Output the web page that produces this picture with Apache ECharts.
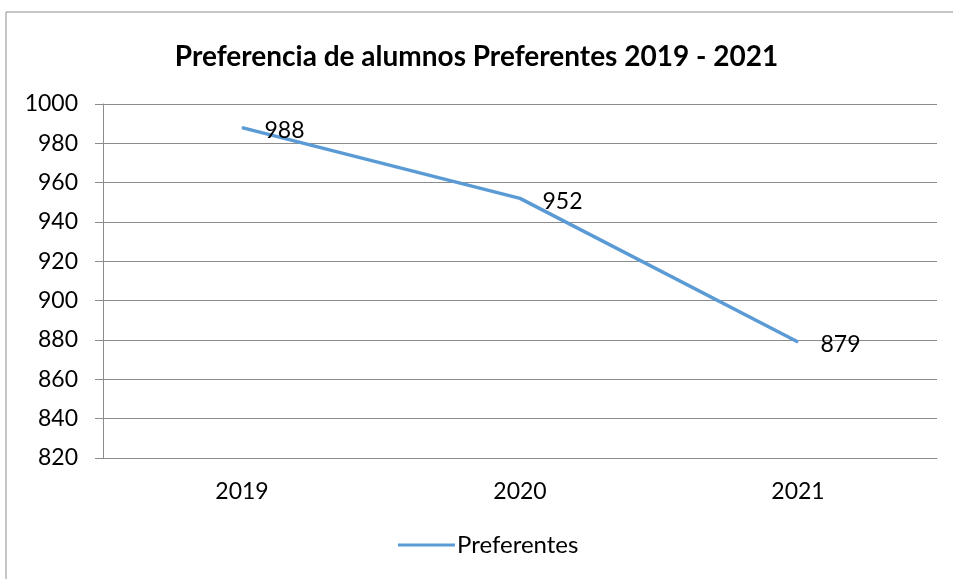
<!DOCTYPE html>
<html>
<head>
    <meta charset="UTF-8">
    <title>Preferentes</title>
    <script src="https://cdn.jsdelivr.net/npm/echarts@6/dist/echarts.min.js"></script>
    <style>
        *{margin:0;padding:0}
        html, body{ width:100%; height:100%; background:#fff; }
        #main{ width:953px; height:579px; }
    </style>
</head>
<body>
    <div id="main"></div>
    <script type="text/javascript">
        var years = ['2019', '2020', '2021'];
        var preferentes = [988, 952, 879];
        var titleText = 'Preferencia de alumnos Preferentes 2019 - 2021';
        var seriesName = 'Preferentes';

        var font = 'Lato';
        var myChart = echarts.init(document.getElementById('main'));
        var option = {
            backgroundColor: '#fff',
            textStyle: { fontFamily: font, color: '#000' },
            graphic: [{
                type: 'rect',
                shape: { x: 6, y: 12, width: 1000, height: 700 },
                style: { fill: 'none', stroke: '#8c8c8c', lineWidth: 1 },
                silent: true
            }],
            title: {
                text: titleText,
                left: 'center',
                top: 38,
                textStyle: { fontFamily: font, fontWeight: 'bold', fontSize: 28, color: '#000' }
            },
            legend: {
                left: 398,
                bottom: 22,
                padding: 0,
                itemWidth: 57,
                itemHeight: 3,
                itemGap: 0,
                data: [{ name: seriesName, icon: 'rect' }],
                textStyle: { fontFamily: font, fontSize: 24, color: '#000', padding: [0, 0, 0, -3] }
            },
            grid: { left: 103, right: 16, top: 104, bottom: 121 },
            xAxis: {
                type: 'category',
                data: years,
                boundaryGap: true,
                axisLine: { lineStyle: { color: '#8c8c8c', width: 1 } },
                axisTick: { length: 8, lineStyle: { color: '#8c8c8c' } },
                axisLabel: { fontFamily: font, fontSize: 23, color: '#000', margin: 22 }
            },
            yAxis: {
                type: 'value',
                min: 820,
                max: 1000,
                interval: 20,
                axisLine: { show: true, lineStyle: { color: '#8c8c8c', width: 1 } },
                axisTick: { show: true, length: 8, lineStyle: { color: '#8c8c8c' } },
                axisLabel: {
                    fontFamily: font, fontSize: 23, color: '#000', margin: 25,
                    formatter: function (v) { return String(v); }
                },
                splitLine: { lineStyle: { color: '#8c8c8c', width: 1 } }
            },
            series: [{
                name: seriesName,
                type: 'line',
                data: preferentes,
                symbol: 'circle',
                symbolSize: 1,
                color: '#5b9bd5',
                lineStyle: { width: 3.5, color: '#5b9bd5' },
                label: {
                    show: true,
                    position: 'right',
                    distance: 22,
                    offset: [0, 3],
                    fontFamily: font,
                    fontSize: 23,
                    color: '#000'
                },
                animation: false
            }]
        };
        myChart.setOption(option);
    </script>
</body>
</html>
